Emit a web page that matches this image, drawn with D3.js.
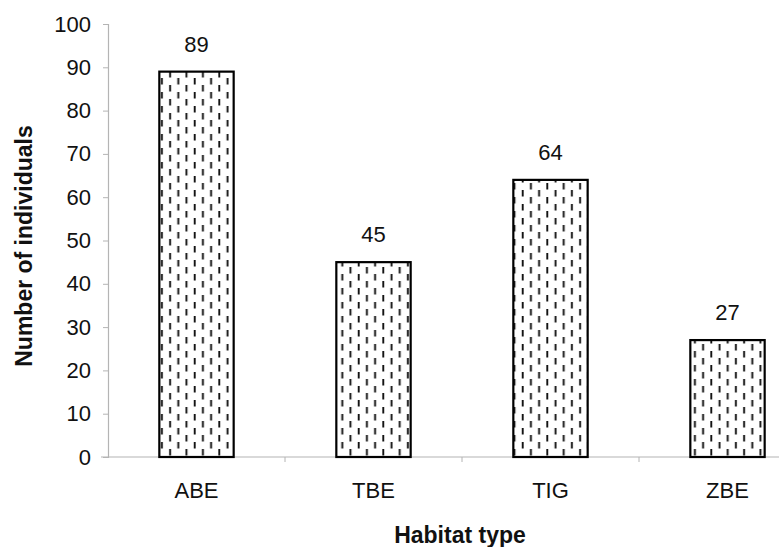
<!DOCTYPE html>
<html>
<head>
<meta charset="utf-8">
<script src="https://cdn.jsdelivr.net/npm/d3@7/dist/d3.min.js"></script>
<style>
  html, body { margin: 0; padding: 0; background: #fff; }
  svg { display: block; font-family: "Liberation Sans", Arial, sans-serif; }
</style>
</head>
<body>
<svg id="chart" width="779" height="547"></svg>
<script>
// Number of individuals recorded per habitat type
const categories = ["ABE", "TBE", "TIG", "ZBE"];
const values = [89, 45, 64, 27];
const yTicks = [0, 10, 20, 30, 40, 50, 60, 70, 80, 90, 100];

const svg = d3.select("#chart");
const FONT = "'Liberation Sans', Arial, sans-serif";

const x = d3.scaleBand()
  .domain(categories)
  .range([108, 816])
  .paddingInner(0.58)
  .paddingOuter(0.29);

const y = d3.scaleLinear()
  .domain([0, 100])
  .range([457, 24]);

// Dashed vertical fill for the bars: staggered dash columns
const defs = svg.append("defs");
const pw = 16.4, ph = 14;
const pat = defs.append("pattern")
  .attr("id", "dash")
  .attr("patternUnits", "userSpaceOnUse")
  .attr("x", 2)
  .attr("width", pw)
  .attr("height", ph);
pat.append("rect").attr("width", pw).attr("height", ph).attr("fill", "#fff");
const dashes = [
  [4.1, 1, 7.5],
  [12.3, 8, 14.5],
  [12.3, -6, 0.5]
];
dashes.forEach(([dx, y1, y2]) => {
  pat.append("line").attr("x1", dx).attr("x2", dx).attr("y1", y1).attr("y2", y2)
    .attr("stroke", "#111").attr("stroke-width", 1.9);
});

// Y axis
const yAxis = d3.axisLeft(y).tickValues(yTicks).tickSize(5).tickPadding(12);
const gy = svg.append("g").attr("transform", "translate(108,0)").call(yAxis);
gy.select(".domain").attr("stroke", "#b4b4b4").attr("stroke-width", 1.2);
gy.selectAll(".tick line").attr("stroke", "#b4b4b4");
gy.selectAll(".tick text").attr("fill", "#111").style("font-size", "22px")
  .style("font-family", FONT);

// X axis baseline with separators between categories
const gx = svg.append("g").attr("transform", "translate(0,457)");
gx.append("line").attr("x1", 101).attr("x2", 779).attr("y1", 0).attr("y2", 0)
  .attr("stroke", "#b4b4b4").attr("stroke-width", 1.2);
const step = x.step();
categories.forEach((c, i) => {
  const xs = x(c) - (step - x.bandwidth()) / 2;
  if (i > 0) {
    gx.append("line").attr("x1", xs).attr("x2", xs).attr("y1", 0).attr("y2", 5)
      .attr("stroke", "#b4b4b4");
  }
});
gx.selectAll("text.cat").data(categories).enter().append("text")
  .attr("class", "cat")
  .attr("x", d => x(d) + x.bandwidth() / 2)
  .attr("y", 41)
  .attr("text-anchor", "middle")
  .attr("fill", "#111")
  .style("font-size", "22px")
  .text(d => d);

// Bars
const data = categories.map((c, i) => ({ c, v: values[i] }));
svg.selectAll("rect.bar").data(data).enter().append("rect")
  .attr("class", "bar")
  .attr("x", d => x(d.c))
  .attr("y", d => y(d.v))
  .attr("width", x.bandwidth())
  .attr("height", d => y(0) - y(d.v))
  .attr("fill", "url(#dash)")
  .attr("stroke", "#000")
  .attr("stroke-width", 2.2);

// Value labels
svg.selectAll("text.val").data(data).enter().append("text")
  .attr("class", "val")
  .attr("x", d => x(d.c) + x.bandwidth() / 2)
  .attr("y", d => y(d.v) - 20)
  .attr("text-anchor", "middle")
  .attr("fill", "#111")
  .style("font-size", "22px")
  .text(d => d.v);

// Axis titles
svg.append("text")
  .attr("x", 460).attr("y", 543)
  .attr("text-anchor", "middle")
  .style("font-size", "23px").style("font-weight", "bold")
  .attr("fill", "#111")
  .text("Habitat type");

svg.append("text")
  .attr("transform", "translate(32,246) rotate(-90)")
  .attr("text-anchor", "middle")
  .style("font-size", "23px").style("font-weight", "bold")
  .attr("fill", "#111")
  .text("Number of individuals");
</script>
</body>
</html>
